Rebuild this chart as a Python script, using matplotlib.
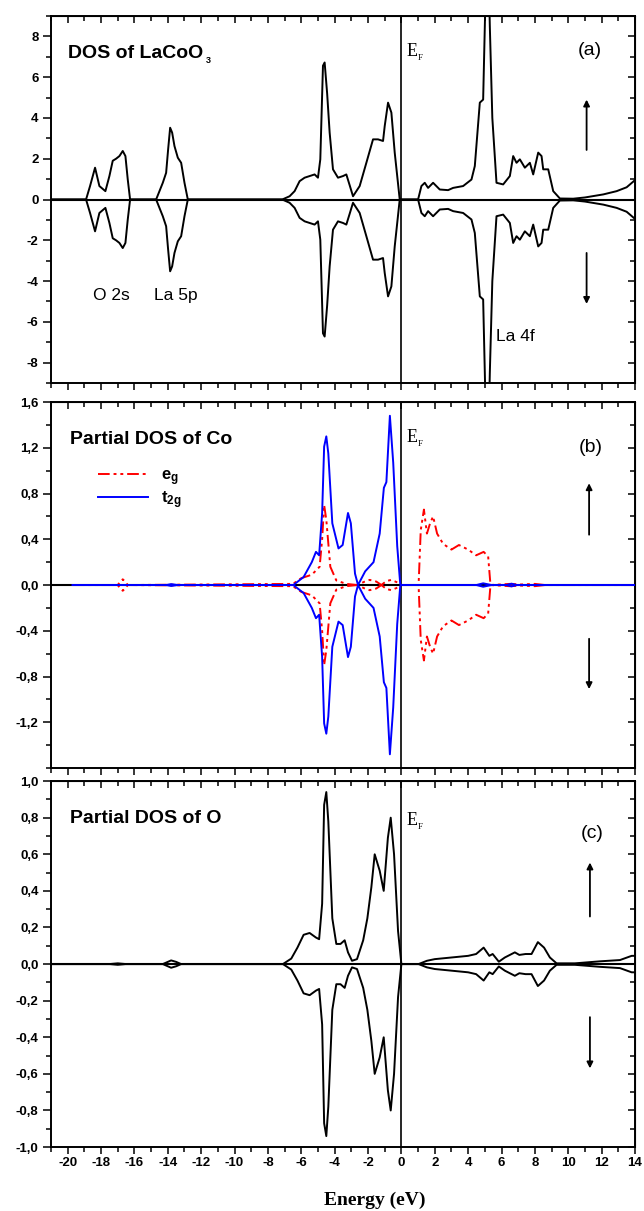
import matplotlib
matplotlib.use('Agg')
import matplotlib.pyplot as plt
from matplotlib.ticker import MultipleLocator, FixedLocator, FuncFormatter

plt.rcParams['font.family'] = ['Liberation Sans', 'DejaVu Sans']
plt.rcParams['mathtext.fontset'] = 'custom'
plt.rcParams['mathtext.rm'] = 'Liberation Sans'
plt.rcParams['mathtext.bf'] = 'Liberation Sans:bold'

# ---- panel (a): total DOS, spin up (spin down is the mirror image)
tot_E = [-21.0, -18.9, -18.66, -18.36, -18.1, -17.74, -17.5, -17.3, -17.1, -16.9,
         -16.7, -16.54, -16.4, -16.26, -14.7, -14.3, -14.1, -13.98, -13.86, -13.74,
         -13.6, -13.4, -13.2, -13.0, -12.8, -7.14, -6.7, -6.4, -6.1, -5.8,
         -5.2, -5.0, -4.86, -4.7, -4.6, -4.45, -4.3, -4.1, -3.8, -3.5,
         -3.3, -3.1, -2.9, -2.5, -2.1, -1.7, -1.4, -1.1, -1.0, -0.8,
         -0.6, -0.4, -0.1, 1.0, 1.2, 1.4, 1.6, 1.9, 2.3, 2.8,
         3.1, 3.7, 4.2, 4.4, 4.7, 4.9, 5.0, 5.15, 5.3, 5.45,
         5.7, 6.1, 6.5, 6.7, 6.9, 7.1, 7.4, 7.7, 7.9, 8.2,
         8.4, 8.5, 8.8, 9.1, 9.5, 10.3, 11.0, 12.1, 12.9, 13.5, 14.0]
tot_up = [0.0, 0.0, 0.66, 1.56, 0.66, 0.41, 1.15, 1.9, 2.0, 2.13,
          2.38, 2.13, 0.98, 0.0, 0.0, 0.82, 1.31, 2.46, 3.52, 3.28,
          2.62, 2.05, 1.8, 0.82, 0.0, 0.0, 0.16, 0.41, 0.9, 1.07,
          1.23, 1.07, 1.97, 6.56, 6.72, 5.2, 3.28, 1.48, 1.07, 1.15,
          1.23, 0.7, 0.16, 0.66, 1.8, 2.95, 2.95, 2.87, 3.6, 4.75,
          4.26, 2.3, 0.0, 0.0, 0.66, 0.82, 0.57, 0.82, 0.49, 0.46,
          0.57, 0.66, 0.98, 1.64, 4.75, 4.9, 8.5, 14.0, 8.5, 4.0,
          0.82, 0.74, 1.15, 2.13, 1.8, 1.97, 1.56, 1.8, 1.23, 2.3,
          2.13, 1.48, 1.48, 0.41, 0.05, 0.04, 0.1, 0.25, 0.41, 0.6, 0.95]

# ---- panel (b): partial DOS of Co, e_g and t_2g, spin up
eg_E = [-19.7, -17.0, -16.85, -16.7, -16.55, -16.4, -6.5, -6.0, -5.37, -4.9,
        -4.75, -4.63, -4.5, -4.26, -3.9, -3.3, -2.66, -2.2, -1.9, -1.5,
        -1.2, -0.9, -0.6, -0.2, 0.0, 1.03, 1.16, 1.35, 1.53, 1.72,
        1.9, 2.14, 2.5, 3.0, 3.45, 4.0, 4.48, 4.93, 5.2, 5.34,
        6.5, 7.2, 8.0, 8.6, 14.0]
eg_up = [0.0, 0.0, 0.03, 0.05, 0.03, 0.0, 0.01, 0.06, 0.09, 0.16,
         0.4, 0.7, 0.57, 0.16, 0.04, 0.01, 0.0, 0.03, 0.045, 0.03,
         0.0, 0.035, 0.045, 0.02, 0.0, 0.0, 0.48, 0.66, 0.45, 0.54,
         0.6, 0.45, 0.36, 0.31, 0.35, 0.31, 0.26, 0.29, 0.25, 0.0,
         0.01, 0.005, 0.01, 0.0, 0.0]

t2g_E = [-19.7, -14.1, -13.8, -13.4, -6.48, -5.86, -5.37, -5.12, -4.93, -4.75,
         -4.63, -4.5, -4.38, -4.14, -3.77, -3.52, -3.2, -3.03, -2.78, -2.6,
         -2.17, -1.67, -1.3, -1.05, -0.9, -0.69, -0.49, -0.25, -0.07, 0.0,
         4.5, 4.9, 5.4, 6.3, 6.6, 6.9, 14.0]
t2g_up = [0.0, 0.0, 0.008, 0.0, 0.0, 0.07, 0.2, 0.29, 0.26, 0.63,
          1.21, 1.3, 1.15, 0.54, 0.32, 0.35, 0.63, 0.54, 0.1, 0.0,
          0.12, 0.2, 0.45, 0.85, 0.9, 1.48, 1.07, 0.34, 0.01, 0.0,
          0.0, 0.015, 0.0, 0.0, 0.012, 0.0, 0.0]

# ---- panel (c): partial DOS of O, spin up
o_E = [-21.0, -17.5, -17.0, -16.5, -14.3, -14.0, -13.8, -13.5, -13.2, -7.1,
       -6.6, -6.23, -5.86, -5.5, -5.12, -4.93, -4.75, -4.63, -4.5, -4.38,
       -4.14, -3.9, -3.65, -3.4, -3.2, -2.96, -2.66, -2.29, -2.04, -1.8,
       -1.6, -1.3, -1.06, -0.81, -0.64, -0.44, -0.2, 0.0, 1.03, 1.53,
       2.0, 3.0, 4.0, 4.48, 4.93, 5.27, 5.47, 5.84, 6.2, 6.8,
       7.07, 7.44, 7.8, 8.18, 8.55, 8.9, 9.3, 10.4, 11.9, 13.1, 13.8, 14.0]
o_up = [0.0, 0.0, 0.004, 0.0, 0.0, 0.012, 0.02, 0.012, 0.0, 0.0,
        0.03, 0.09, 0.16, 0.17, 0.145, 0.136, 0.33, 0.87, 0.94, 0.78,
        0.25, 0.11, 0.11, 0.13, 0.064, 0.018, 0.027, 0.13, 0.25, 0.42,
        0.6, 0.51, 0.4, 0.69, 0.8, 0.6, 0.18, 0.0, 0.0, 0.018,
        0.027, 0.036, 0.045, 0.055, 0.09, 0.045, 0.055, 0.013, 0.036, 0.064,
        0.05, 0.055, 0.055, 0.12, 0.09, 0.036, 0.004, 0.004, 0.015, 0.022, 0.045, 0.045]

x_ticks = list(range(-20, 15, 2))
a_ticks = [-8, -6, -4, -2, 0, 2, 4, 6, 8]
b_ticks = [-1.2, -0.8, -0.4, 0.0, 0.4, 0.8, 1.2, 1.6]
c_ticks = [-1.0, -0.8, -0.6, -0.4, -0.2, 0.0, 0.2, 0.4, 0.6, 0.8, 1.0]

fig = plt.figure(figsize=(6.44, 12.11), dpi=100)
L, W = 0.0792, 0.9068
ax_a = fig.add_axes([L, 0.6837, W, 0.3031])
ax_b = fig.add_axes([L, 0.3658, W, 0.3022])
ax_c = fig.add_axes([L, 0.0528, W, 0.3022])

def comma(v, pos):
    s = '%.1f' % v
    if s == '-0.0':
        s = '0.0'
    return s.replace('.', ',')

def integer(v, pos):
    return '%d' % round(v)

def style(ax, ylim, yticks, yminor, fmt, xlabels):
    ax.set_xlim(-21, 14)
    ax.set_ylim(*ylim)
    for s in ax.spines.values():
        s.set_linewidth(1.4)
    ax.xaxis.set_major_locator(FixedLocator(x_ticks))
    ax.xaxis.set_minor_locator(MultipleLocator(1))
    ax.yaxis.set_major_locator(FixedLocator(yticks))
    ax.yaxis.set_minor_locator(MultipleLocator(yminor))
    ax.yaxis.set_major_formatter(FuncFormatter(fmt))
    ax.xaxis.set_major_formatter(FuncFormatter(integer))
    ax.tick_params(which='major', direction='out', length=5, width=1.1,
                   labelsize=9.5, labelbottom=xlabels)
    ax.tick_params(which='minor', direction='out', length=3.5, width=1.1)
    ax.tick_params(axis='x', pad=2)
    ax.tick_params(axis='y', which='major', length=5.5, pad=3.5)
    for lab in ax.get_xticklabels() + ax.get_yticklabels():
        lab.set_fontweight('bold')
    top = ax.secondary_xaxis('top')
    top.xaxis.set_major_locator(FixedLocator(x_ticks))
    top.xaxis.set_minor_locator(MultipleLocator(1))
    top.tick_params(which='major', direction='in', length=5, width=1.1, labeltop=False)
    top.tick_params(which='minor', direction='in', length=3.5, width=1.1)
    right = ax.secondary_yaxis('right')
    right.yaxis.set_major_locator(FixedLocator(yticks))
    right.yaxis.set_minor_locator(MultipleLocator(yminor))
    right.tick_params(which='major', direction='in', length=5, width=1.1, labelright=False)
    right.tick_params(which='minor', direction='in', length=3.5, width=1.1)
    ax.axhline(0, color='k', lw=1.5, zorder=1)
    ax.axvline(0, color='k', lw=1.2, zorder=1)

def fermi(ax, yfrac):
    t = ax.text(0.3, yfrac, 'E', transform=ax.get_xaxis_transform(),
                family='Liberation Serif', fontsize=13, va='center')
    ax.annotate('F', xy=(1.0, 0.12), xycoords=t, family='Liberation Serif',
                fontsize=6.5, va='center')

def spin_arrows(ax, x, up, down):
    kw = dict(arrowstyle='-|>', color='k', lw=1.3, mutation_scale=9,
              shrinkA=0, shrinkB=0)
    ax.annotate('', xy=(x, up[1]), xytext=(x, up[0]), arrowprops=kw)
    ax.annotate('', xy=(x, down[1]), xytext=(x, down[0]), arrowprops=kw)

# (a)
style(ax_a, (-9, 9), a_ticks, 1, integer, False)
ax_a.plot(tot_E, tot_up, color='k', lw=1.4, zorder=3)
ax_a.plot(tot_E, [-v for v in tot_up], color='k', lw=1.4, zorder=3)
t = ax_a.text(0.029, 0.899, 'DOS of LaCoO', transform=ax_a.transAxes,
              fontsize=14, fontweight='bold', va='center')
ax_a.annotate('3', xy=(1.02, 0.08), xycoords=t, fontsize=6.5, fontweight='bold', va='center')
ax_a.text(0.902, 0.905, '(a)', transform=ax_a.transAxes, fontsize=14, va='center')
ax_a.text(-18.5, -4.7, 'O 2s', fontsize=12.5, va='center')
ax_a.text(-14.8, -4.7, 'La 5p', fontsize=12.5, va='center')
ax_a.text(5.7, -6.74, 'La 4f', fontsize=12.5, va='center')
fermi(ax_a, 0.902)
spin_arrows(ax_a, 11.1, (2.43, 4.9), (-2.62, -5.12))

# (b)
style(ax_b, (-1.6, 1.6), b_ticks, 0.2, comma, False)
ax_b.yaxis.set_minor_locator(FixedLocator([-1.6, -1.4, -1.0, -0.6, -0.2, 0.2, 0.6, 1.0, 1.4]))
dd = (0, (6, 2, 1.5, 2, 1.5, 2))
ax_b.plot(eg_E, eg_up, color='red', lw=1.4, ls=dd, zorder=3, label=r'$\mathbf{e_g}$')
ax_b.plot(eg_E, [-v for v in eg_up], color='red', lw=1.4, ls=dd, zorder=3)
ax_b.plot(t2g_E, t2g_up, color='#0000ff', lw=1.4, zorder=4, label=r'$\mathbf{t_{2g}}$')
ax_b.plot(t2g_E, [-v for v in t2g_up], color='#0000ff', lw=1.4, zorder=4)
ax_b.text(0.033, 0.899, 'Partial DOS of Co', transform=ax_b.transAxes,
          fontsize=14, fontweight='bold', va='center')
ax_b.text(0.904, 0.877, '(b)', transform=ax_b.transAxes, fontsize=14, va='center')
ax_b.legend(loc='upper left', bbox_to_anchor=(0.08, 0.82), frameon=False,
            fontsize=12, handlelength=3.0, handletextpad=0.8, labelspacing=0.1,
            borderpad=0, borderaxespad=0)
fermi(ax_b, 0.904)
spin_arrows(ax_b, 11.25, (0.44, 0.89), (-0.47, -0.91))

# (c)
style(ax_c, (-1.0, 1.0), c_ticks, 0.1, comma, True)
ax_c.plot(o_E, o_up, color='k', lw=1.4, zorder=3)
ax_c.plot(o_E, [-v for v in o_up], color='k', lw=1.4, zorder=3)
ax_c.text(0.033, 0.899, 'Partial DOS of O', transform=ax_c.transAxes,
          fontsize=14, fontweight='bold', va='center')
ax_c.text(0.907, 0.858, '(c)', transform=ax_c.transAxes, fontsize=14, va='center')
fermi(ax_c, 0.893)
spin_arrows(ax_c, 11.3, (0.26, 0.555), (-0.29, -0.57))

fig.text(375 / 644, 1 - 1200 / 1211, 'Energy (eV)', family='Liberation Serif',
         fontsize=14, fontweight='bold', ha='center', va='center')

fig.savefig('out.png', dpi=100)
